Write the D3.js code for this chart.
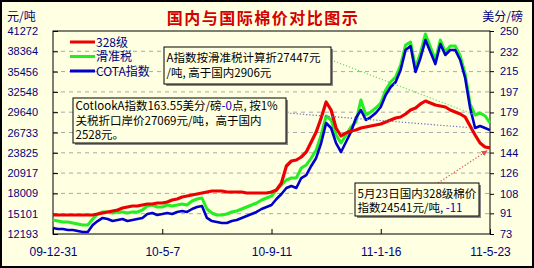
<!DOCTYPE html>
<html>
<head>
<meta charset="utf-8">
<script src="https://cdn.jsdelivr.net/npm/d3@7"></script>
<style>
  body { margin: 0; background: #fff; }
  svg { display: block; }
</style>
</head>
<body>
<svg id="chart" width="534" height="268"></svg>
<script>
// 328级 domestic index, yuan/ton (left axis)
const red328 = [14915,14915,14915,14915,14915,14915,14915,14915,14915,15058,
  15201,15345,15488,15631,15918,16061,16204,16204,16347,16491,
  16491,16634,16634,16777,17063,17207,17493,17637,17780,17923,
  18066,18209,18353,18353,18353,18209,18209,18209,18209,18066,
  18066,18066,18066,18066,18209,18496,19499,21934,22650,22793,
  23223,23940,25372,26805,28810,31102,29956,27378,26232,26661,
  26948,27091,27378,27521,27664,27807,27951,28237,28524,28810,
  28953,29383,29956,30243,30816,31245,30959,30672,30529,30386,
  29956,29669,29383,28953,27664,26375,25229,24656,24541];

// A index converted by sliding tax, yuan/ton (left axis)
const greenHz = [14199,14055,13912,13912,13769,13626,13482,13482,14342,15058,
  15345,15345,15201,15345,15345,15201,15345,15345,15631,16204,
  16347,16061,16061,16347,16204,16347,16491,16347,16920,17207,
  17350,15774,15201,14915,14915,15058,15345,15488,15774,16061,
  16347,16634,17063,17350,17637,18496,19212,19929,20215,20215,
  21648,22077,23080,24226,26375,29097,28524,26375,25229,26375,
  27521,28237,31389,29240,29670,30243,30959,32821,33967,34683,
  36402,39267,39697,35973,38121,40843,38981,37119,39984,38265,
  39124,39124,37692,35113,30816,29240,29526,29097,28100];

// COTA index, cents/lb (right axis)
const blueCota = [78.2,77.4,77.4,76.5,76.5,75.6,74.7,74.7,80.8,84.3,
  87.0,86.1,84.3,85.2,86.1,84.3,85.2,86.1,87.0,90.4,
  91.3,89.6,90.4,91.3,90.4,92.2,93.1,92.2,94.8,96.5,
  97.4,87.0,84.3,83.5,82.6,82.6,84.3,85.2,87.0,88.7,
  90.4,92.2,94.8,96.5,98.3,103.5,107.9,113.1,114.9,113.1,
  121.8,124.4,132.3,139.3,152.3,169.8,165.4,152.3,144.5,153.2,
  161.9,174.1,181.1,172.4,175.0,178.5,183.7,194.2,201.2,205.5,
  216.0,233.4,236.9,214.2,226.5,242.1,231.7,221.2,238.7,229.1,
  233.4,233.4,224.7,209.0,182.9,165.4,167.2,165.4,163.55];

const leftTicks = [12193,15101,18009,20917,23825,26733,29640,32548,35456,38364,41272];
const rightTicks = [73,91,108,126,144,162,179,197,215,232,250];
const xLabels = ["09-12-31","10-5-7","10-9-11","11-1-16","11-5-23"];

const seriesNames = ["328级","滑准税","COTA指数"];
const seriesColors = ["#ee0000","#22ee22","#0000cc"];

const note1 = [[["A指数按滑准税计算折27447元","#000"]],[["/吨, 高于国内2906元","#000"]]];
const note2 = [[["CotlookA指数163.55美分/磅","#000"],["-0","#0000cc"],["点, 按1%","#000"]],
               [["关税折口岸价27069元/吨，高于国内","#000"]],
               [["2528元。","#000"]]];
const note3 = [[["5月23日国内328级棉价","#000"]],[["指数24541元/吨, ","#000"],["-11","#0000cc"]]];

const W = 534, H = 268;
const m = { left: 53, right: 490, top: 31, bottom: 234 };
const bg = "#ffffe1";
const navy = "#000080";
const cjk = "'Noto Sans CJK SC', 'Noto Sans', sans-serif";
const num = "'Liberation Sans', Arial, sans-serif";

const svg = d3.select("#chart");

svg.append("defs").append("marker")
  .attr("id", "arr").attr("viewBox", "0 0 10 10")
  .attr("refX", 9).attr("refY", 5)
  .attr("markerWidth", 5).attr("markerHeight", 5)
  .attr("orient", "auto")
  .append("path").attr("d", "M0,0L10,5L0,10z").attr("fill", "#e05050");

svg.append("rect").attr("x", 1).attr("y", 1).attr("width", W - 2).attr("height", H - 2)
  .attr("fill", bg).attr("stroke", "#000").attr("stroke-width", 2);

const N = red328.length;
const x = d3.scaleLinear().domain([0, N - 1]).range([m.left, m.right]);
const yL = d3.scaleLinear().domain([leftTicks[0], leftTicks[leftTicks.length - 1]]).range([m.bottom, m.top]);
const yR = d3.scaleLinear().domain([rightTicks[0], rightTicks[rightTicks.length - 1]]).range([m.bottom, m.top]);

// grid
svg.append("g").selectAll("line")
  .data(leftTicks.slice(1, -1))
  .enter().append("line")
  .attr("x1", m.left).attr("x2", m.right)
  .attr("y1", d => yL(d)).attr("y2", d => yL(d))
  .attr("stroke", "#a8a8a8").attr("stroke-dasharray", "4,4");

// axes
const gl = svg.append("g").attr("transform", `translate(${m.left},0)`)
  .call(d3.axisLeft(yL).tickValues(leftTicks).tickSizeInner(-5).tickSizeOuter(0).tickPadding(15).tickFormat(d => d));
const gr = svg.append("g").attr("transform", `translate(${m.right},0)`)
  .call(d3.axisRight(yR).tickValues(rightTicks).tickSizeInner(4).tickSizeOuter(0).tickPadding(6).tickFormat(d => d));
const xTickIdx = xLabels.map((_, i) => i * (N - 1) / (xLabels.length - 1));
const gx = svg.append("g").attr("transform", `translate(0,${m.bottom})`)
  .call(d3.axisBottom(x).tickValues(xTickIdx).tickSizeInner(-5).tickSizeOuter(0).tickPadding(13)
    .tickFormat((d, i) => xLabels[i]));

[gl, gr, gx].forEach(g => {
  g.select(".domain").remove();
  g.selectAll("line").attr("stroke", "#000");
  g.selectAll("text").attr("fill", navy).style("font-family", num).style("font-size", "11px");
});
gx.selectAll("text").style("font-size", "12px");

// frame
svg.append("rect").attr("x", m.left).attr("y", m.top)
  .attr("width", m.right - m.left).attr("height", m.bottom - m.top)
  .attr("fill", "none").attr("stroke", "#000");

// lines
const lineL = d3.line().x((d, i) => x(i)).y(d => yL(d));
const lineR = d3.line().x((d, i) => x(i)).y(d => yR(d));
svg.append("path").datum(greenHz).attr("d", lineL)
  .attr("fill", "none").attr("stroke", seriesColors[1]).attr("stroke-width", 3).attr("stroke-linejoin", "round");
svg.append("path").datum(blueCota).attr("d", lineR)
  .attr("fill", "none").attr("stroke", seriesColors[2]).attr("stroke-width", 2.6).attr("stroke-linejoin", "round");
svg.append("path").datum(red328).attr("d", lineL)
  .attr("fill", "none").attr("stroke", seriesColors[0]).attr("stroke-width", 3.2).attr("stroke-linejoin", "round");

// titles
svg.append("text").attr("x", 263).attr("y", 24).attr("text-anchor", "middle")
  .style("font-family", cjk).style("font-size", "16px").style("font-weight", "bold")
  .style("letter-spacing", "1.5px").attr("fill", "#d40000")
  .text("国内与国际棉价对比图示");
svg.append("text").attr("x", 7).attr("y", 21).style("font-family", cjk).style("font-size", "12px")
  .attr("fill", navy).text("元/吨");
svg.append("text").attr("x", 523).attr("y", 21).attr("text-anchor", "end")
  .style("font-family", cjk).style("font-size", "12px").attr("fill", navy).text("美分/磅");

// legend
const leg = svg.append("g").selectAll("g").data(seriesNames).enter().append("g")
  .attr("transform", (d, i) => `translate(70,${42 + i * 14.5})`);
leg.append("line").attr("x1", 0).attr("x2", 25)
  .attr("stroke", (d, i) => seriesColors[i]).attr("stroke-width", 3);
leg.append("text").attr("x", 26).attr("y", 4.5)
  .style("font-family", cjk).style("font-size", "12px").attr("fill", navy).text(d => d);

// connectors
function dotted(x1, y1, x2, y2, color, arrow) {
  const l = svg.append("line").attr("x1", x1).attr("y1", y1).attr("x2", x2).attr("y2", y2)
    .attr("stroke", color).attr("stroke-width", 1.2).attr("stroke-dasharray", "1.2,2");
  if (arrow) l.attr("marker-end", "url(#arr)");
}
dotted(331, 60, x(N - 4), yL(greenHz[N - 4]), "#66dd66");
dotted(287, 113, x(N - 4), yR(blueCota[N - 4]), "#6666cc");
dotted(438, 183, x(N - 1) - 3, yL(red328[N - 1]) + 3, "#e05050", true);

// annotation boxes
function noteBox(bx, by, bw, bh, first, step, lines) {
  const g = svg.append("g");
  g.append("rect").attr("x", bx + 2).attr("y", by + 2).attr("width", bw).attr("height", bh).attr("fill", "#888");
  g.append("rect").attr("x", bx).attr("y", by).attr("width", bw).attr("height", bh)
    .attr("fill", bg).attr("stroke", "#000");
  lines.forEach((segs, i) => {
    const t = g.append("text").attr("x", bx + 2.5).attr("y", by + first + i * step)
      .style("font-family", cjk).style("font-size", "11.5px");
    segs.forEach(s => t.append("tspan").attr("fill", s[1]).text(s[0]));
  });
}
noteBox(164, 47, 167, 37, 15, 15, note1);
noteBox(73, 98, 213, 45, 12, 14.5, note2);
noteBox(355, 183, 124, 33, 15, 14, note3);
</script>
</body>
</html>
